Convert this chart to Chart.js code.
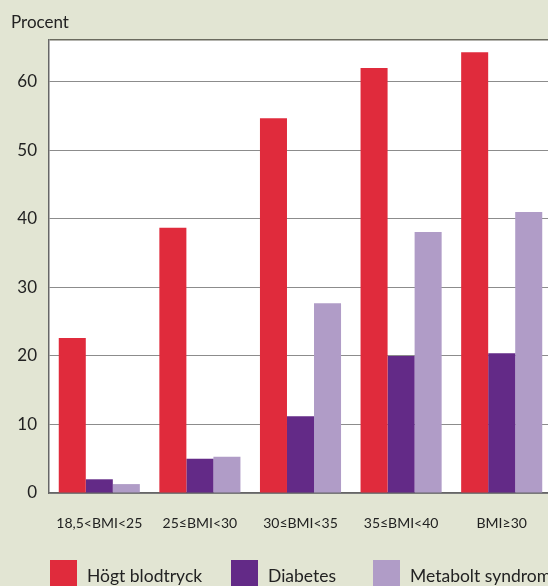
<!DOCTYPE html>
<html>
<head>
<meta charset="utf-8">
<script src="https://cdn.jsdelivr.net/npm/chart.js@4"></script>
<style>
  html, body { margin: 0; padding: 0; background: #e2e5d3; overflow: hidden; }
  #wrap { width: 552px; height: 586px; }
</style>
</head>
<body>
<div id="wrap"><canvas id="bmiChart" width="552" height="586"></canvas></div>
<script>
// categories and values (Procent)
const categories = ['18,5<BMI<25', '25\u2264BMI<30', '30\u2264BMI<35', '35\u2264BMI<40', 'BMI\u226530'];
const hogtBlodtryck = [22.6, 38.7, 54.7, 62.0, 64.3];
const diabetes = [2.0, 5.0, 11.2, 20.0, 20.4];
const metaboltSyndrom = [1.3, 5.3, 27.7, 38.1, 41.0];
const yTicks = [0, 10, 20, 30, 40, 50, 60];

const fontFamily = 'Lato, "Open Sans", sans-serif';
const yMax = 66.1;

// white plot area, "Procent" label and the legend at the bottom
const decorPlugin = {
  id: 'decor',
  beforeDraw(chart) {
    const { ctx, chartArea } = chart;
    ctx.save();
    ctx.fillStyle = '#ffffff';
    ctx.fillRect(chartArea.left, chartArea.top, chartArea.right - chartArea.left, chartArea.bottom - chartArea.top);
    ctx.restore();
  },
  afterDraw(chart) {
    const { ctx } = chart;
    ctx.save();
    ctx.fillStyle = '#222';
    ctx.font = '17px ' + fontFamily;
    ctx.textBaseline = 'middle';
    ctx.fillText('Procent', 11, 23);

    // legend
    const legendX = [50, 231, 373];
    ctx.font = '17.5px ' + fontFamily;
    chart.data.datasets.forEach((ds, i) => {
      ctx.fillStyle = ds.backgroundColor;
      ctx.fillRect(legendX[i], 560, 27, 27);
      ctx.fillStyle = '#222';
      ctx.fillText(ds.label, legendX[i] + 37, 576);
    });
    ctx.restore();
  }
};

new Chart(document.getElementById('bmiChart'), {
  type: 'bar',
  data: {
    labels: categories,
    datasets: [
      { label: 'Högt blodtryck', data: hogtBlodtryck, backgroundColor: '#e02b3c' },
      { label: 'Diabetes', data: diabetes, backgroundColor: '#632a87' },
      { label: 'Metabolt syndrom', data: metaboltSyndrom, backgroundColor: '#b09cc7' },
    ],
  },
  options: {
    responsive: false,
    animation: false,
    devicePixelRatio: 1,
    layout: { padding: { top: 40, left: 0, right: 0, bottom: 0 } },
    datasets: {
      bar: { barPercentage: 1, categoryPercentage: 0.806, borderWidth: 0 },
    },
    scales: {
      x: {
        grid: { display: false },
        border: { display: true, color: '#666', width: 1.5 },
        ticks: {
          color: '#222',
          font: { family: fontFamily, size: 14 },
          padding: 14,
          maxRotation: 0,
          autoSkip: false,
        },
        afterFit(scale) { scale.height = 93; },
      },
      y: {
        min: 0,
        max: yMax,
        afterBuildTicks(scale) {
          scale.ticks = [...yTicks, yMax].map(v => ({ value: v }));
        },
        grid: {
          drawTicks: false,
          color: (c) => (c.tick && c.tick.value === yMax ? '#6a6a5e' : '#8c8c8c'),
          lineWidth: (c) => (c.tick && c.tick.value === yMax ? 1.5 : 1),
        },
        border: { display: true, color: '#666', width: 1.5 },
        ticks: {
          color: '#222',
          font: { family: fontFamily, size: 17 },
          padding: 12,
          callback: (v) => (yTicks.includes(v) ? String(v) : ''),
        },
        afterFit(scale) { scale.width = 49; },
      },
    },
    plugins: {
      legend: { display: false },
      tooltip: { enabled: false },
    },
  },
  plugins: [decorPlugin],
});
</script>
</body>
</html>
